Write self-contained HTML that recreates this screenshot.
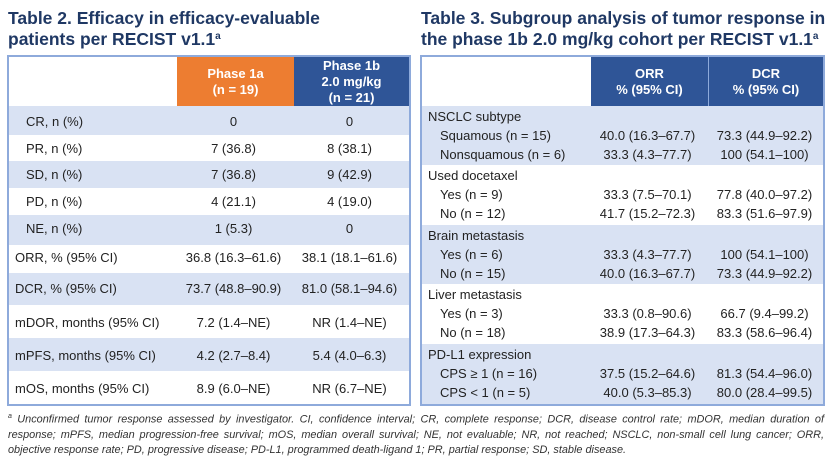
<!DOCTYPE html>
<html><head><meta charset="utf-8"><style>
body{margin:0;width:831px;height:457px;background:#fff;position:relative;overflow:hidden;font-family:"Liberation Sans",Arial,sans-serif;}
.t{position:absolute;color:#1F3864;font-weight:bold;font-size:17.5px;line-height:21px;}
.t sup{font-size:10px;vertical-align:6px;line-height:0}
.box{position:absolute;border:2px solid #8EAADB;box-sizing:border-box;}
.r{position:absolute;left:0;font-size:13px;color:#222;}
.r span{position:absolute;top:0;white-space:nowrap}
.b{background:#D9E2F3}
.h{position:absolute;color:#fff;font-weight:bold;font-size:13px;text-align:center;line-height:16px;display:flex;align-items:center;justify-content:center}
.c{text-align:center}
.fn{position:absolute;left:8px;width:816px;top:409px;font-size:10.9px;font-style:italic;color:#333;line-height:15px;text-align:justify;text-align-last:left}
</style></head><body>
<div class="t" style="left:8px;top:8px">Table 2. Efficacy in efficacy-evaluable<br>patients per RECIST v1.1<sup>a</sup></div>
<div class="t" style="left:421px;top:8px">Table 3. Subgroup analysis of tumor response in<br>the phase 1b 2.0 mg/kg cohort per RECIST v1.1<sup>a</sup></div>

<div class="box" style="left:7px;top:55px;width:404px;height:351px">
<div class="h" style="left:168px;top:0;width:117px;height:50px;background:#ED7D31">Phase 1a<br>(n = 19)</div>
<div class="h" style="left:285px;top:0;width:115px;height:50px;background:#2F5597">Phase 1b<br>2.0 mg/kg<br>(n = 21)</div>
</div>
<div class="box" style="left:420px;top:55px;width:405px;height:351px">
<div class="h" style="left:169px;top:0;width:117px;height:50px;background:#2F5597">ORR<br>% (95% CI)</div>
<div class="h" style="left:286px;top:0;width:115px;height:50px;background:#2F5597;border-left:1px solid #8EAADB;box-sizing:border-box">DCR<br>% (95% CI)</div>
</div>
<div class="fn"><sup style="font-size:7px">a</sup> Unconfirmed tumor response assessed by investigator. CI, confidence interval; CR, complete response; DCR, disease control rate; mDOR, median duration of response; mPFS, median progression-free survival; mOS, median overall survival; NE, not evaluable; NR, not reached; NSCLC, non-small cell lung cancer; ORR, objective response rate; PD, progressive disease; PD-L1, programmed death-ligand 1; PR, partial response; SD, stable disease.</div>

<!-- Left rows -->
<div class="r b" style="left:9px;top:106px;width:400px;height:29px"><span style="left:17px;top:8px">CR, n (%)</span><span class="c" style="left:166px;width:117px;top:8px">0</span><span class="c" style="left:283px;width:115px;top:8px">0</span></div>
<div class="r" style="left:9px;top:135px;width:400px;height:26px"><span style="left:17px;top:6px">PR, n (%)</span><span class="c" style="left:166px;width:117px;top:6px">7 (36.8)</span><span class="c" style="left:283px;width:115px;top:6px">8 (38.1)</span></div>
<div class="r b" style="left:9px;top:161px;width:400px;height:27px"><span style="left:17px;top:6px">SD, n (%)</span><span class="c" style="left:166px;width:117px;top:6px">7 (36.8)</span><span class="c" style="left:283px;width:115px;top:6px">9 (42.9)</span></div>
<div class="r" style="left:9px;top:188px;width:400px;height:27px"><span style="left:17px;top:6px">PD, n (%)</span><span class="c" style="left:166px;width:117px;top:6px">4 (21.1)</span><span class="c" style="left:283px;width:115px;top:6px">4 (19.0)</span></div>
<div class="r b" style="left:9px;top:215px;width:400px;height:30px"><span style="left:17px;top:6px">NE, n (%)</span><span class="c" style="left:166px;width:117px;top:6px">1 (5.3)</span><span class="c" style="left:283px;width:115px;top:6px">0</span></div>
<div class="r" style="left:9px;top:245px;width:400px;height:28px"><span style="left:6px;top:5px">ORR, % (95% CI)</span><span class="c" style="left:166px;width:117px;top:5px">36.8 (16.3–61.6)</span><span class="c" style="left:283px;width:115px;top:5px">38.1 (18.1–61.6)</span></div>
<div class="r b" style="left:9px;top:273px;width:400px;height:32px"><span style="left:6px;top:8px">DCR, % (95% CI)</span><span class="c" style="left:166px;width:117px;top:8px">73.7 (48.8–90.9)</span><span class="c" style="left:283px;width:115px;top:8px">81.0 (58.1–94.6)</span></div>
<div class="r" style="left:9px;top:305px;width:400px;height:33px"><span style="left:6px;top:10px">mDOR, months (95% CI)</span><span class="c" style="left:166px;width:117px;top:10px">7.2 (1.4–NE)</span><span class="c" style="left:283px;width:115px;top:10px">NR (1.4–NE)</span></div>
<div class="r b" style="left:9px;top:338px;width:400px;height:33px"><span style="left:6px;top:10px">mPFS, months (95% CI)</span><span class="c" style="left:166px;width:117px;top:10px">4.2 (2.7–8.4)</span><span class="c" style="left:283px;width:115px;top:10px">5.4 (4.0–6.3)</span></div>
<div class="r" style="left:9px;top:371px;width:400px;height:33px"><span style="left:6px;top:10px">mOS, months (95% CI)</span><span class="c" style="left:166px;width:117px;top:10px">8.9 (6.0–NE)</span><span class="c" style="left:283px;width:115px;top:10px">NR (6.7–NE)</span></div>

<!-- Right groups -->
<div class="r b" style="left:422px;top:106px;width:401px;height:59px"><span style="left:6px;top:3px">NSCLC subtype</span>
<span style="left:18px;top:22px">Squamous (n = 15)</span><span class="c" style="left:167px;width:117px;top:22px">40.0 (16.3–67.7)</span><span class="c" style="left:284px;width:117px;top:22px">73.3 (44.9–92.2)</span>
<span style="left:18px;top:41px">Nonsquamous (n = 6)</span><span class="c" style="left:167px;width:117px;top:41px">33.3 (4.3–77.7)</span><span class="c" style="left:284px;width:117px;top:41px">100 (54.1–100)</span></div>
<div class="r" style="left:422px;top:165px;width:401px;height:60px"><span style="left:6px;top:3px">Used docetaxel</span>
<span style="left:18px;top:22px">Yes (n = 9)</span><span class="c" style="left:167px;width:117px;top:22px">33.3 (7.5–70.1)</span><span class="c" style="left:284px;width:117px;top:22px">77.8 (40.0–97.2)</span>
<span style="left:18px;top:41px">No (n = 12)</span><span class="c" style="left:167px;width:117px;top:41px">41.7 (15.2–72.3)</span><span class="c" style="left:284px;width:117px;top:41px">83.3 (51.6–97.9)</span></div>
<div class="r b" style="left:422px;top:225px;width:401px;height:59px"><span style="left:6px;top:3px">Brain metastasis</span>
<span style="left:18px;top:22px">Yes (n = 6)</span><span class="c" style="left:167px;width:117px;top:22px">33.3 (4.3–77.7)</span><span class="c" style="left:284px;width:117px;top:22px">100 (54.1–100)</span>
<span style="left:18px;top:41px">No (n = 15)</span><span class="c" style="left:167px;width:117px;top:41px">40.0 (16.3–67.7)</span><span class="c" style="left:284px;width:117px;top:41px">73.3 (44.9–92.2)</span></div>
<div class="r" style="left:422px;top:284px;width:401px;height:60px"><span style="left:6px;top:3px">Liver metastasis</span>
<span style="left:18px;top:22px">Yes (n = 3)</span><span class="c" style="left:167px;width:117px;top:22px">33.3 (0.8–90.6)</span><span class="c" style="left:284px;width:117px;top:22px">66.7 (9.4–99.2)</span>
<span style="left:18px;top:41px">No (n = 18)</span><span class="c" style="left:167px;width:117px;top:41px">38.9 (17.3–64.3)</span><span class="c" style="left:284px;width:117px;top:41px">83.3 (58.6–96.4)</span></div>
<div class="r b" style="left:422px;top:344px;width:401px;height:60px"><span style="left:6px;top:3px">PD-L1 expression</span>
<span style="left:18px;top:22px">CPS ≥ 1 (n = 16)</span><span class="c" style="left:167px;width:117px;top:22px">37.5 (15.2–64.6)</span><span class="c" style="left:284px;width:117px;top:22px">81.3 (54.4–96.0)</span>
<span style="left:18px;top:41px">CPS &lt; 1 (n = 5)</span><span class="c" style="left:167px;width:117px;top:41px">40.0 (5.3–85.3)</span><span class="c" style="left:284px;width:117px;top:41px">80.0 (28.4–99.5)</span></div>
</body></html>
